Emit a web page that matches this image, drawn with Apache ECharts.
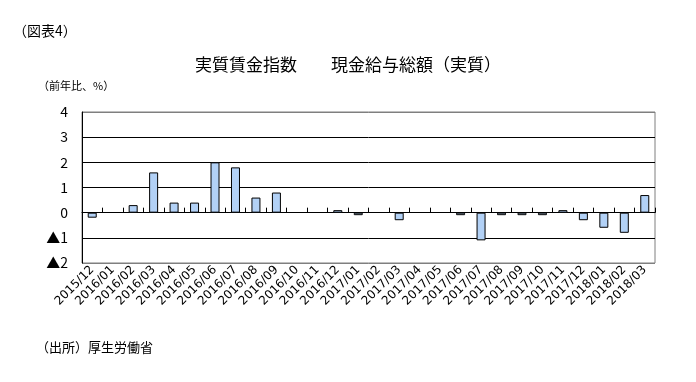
<!DOCTYPE html>
<html><head><meta charset="utf-8">
<script src="https://cdn.jsdelivr.net/npm/echarts@6/dist/echarts.min.js"></script>
<style>html,body{margin:0;padding:0;background:#fff}#c{width:696px;height:382px}</style>
</head><body><div id="c"></div>
<script>
var categories = ['2015/12','2016/01','2016/02','2016/03','2016/04','2016/05','2016/06','2016/07','2016/08','2016/09','2016/10','2016/11','2016/12','2017/01','2017/02','2017/03','2017/04','2017/05','2017/06','2017/07','2017/08','2017/09','2017/10','2017/11','2017/12','2018/01','2018/02','2018/03'];
var values = [-0.2,0,0.3,1.6,0.4,0.4,2.0,1.8,0.6,0.8,0,0,0.1,-0.1,0,-0.3,0,0,-0.1,-1.1,-0.1,-0.1,-0.1,0.1,-0.3,-0.6,-0.8,0.7];
var yMin = -2, yMax = 4, yStep = 1;
var titleText = '実質賃金指数　　現金給与総額（実質）';
var chart = echarts.init(document.getElementById('c'));
var font = '"Noto Sans CJK JP", "DejaVu Sans", sans-serif';
var barData = values.map(function(v){
  return {value: v, itemStyle: {borderWidth: v === 0 ? 0 : 1}};
});
chart.setOption({
  animation: false,
  backgroundColor: '#fff',
  graphic: [
    {type:'text', left: 13, top: 24, style:{text:'（図表4）', font:'14px ' + font, fill:'#000'}},
    {type:'text', left: 38, top: 80, style:{text:'（前年比、%）', font:'11px ' + font, fill:'#000'}},
    {type:'text', left: 36, top: 341, style:{text:'（出所）厚生労働省', font:'13px ' + font, fill:'#000'}}
  ],
  title: {text: titleText, left: 'center', top: 51, textStyle:{fontFamily: font, fontSize: 17, fontWeight:'normal', color:'#000'}},
  grid: {left: 82, right: 41, top: 112, bottom: 119, show: true, borderColor: '#7f7f7f', borderWidth: 1},
  xAxis: [{
    type:'category', data: categories,
    axisLine:{onZero:true, lineStyle:{color:'#000', width:1}},
    axisTick:{show:true, inside:true, length:5, interval:0, lineStyle:{color:'#000'}},
    axisLabel:{show:false}
  },{
    type:'category', data: categories, position:'bottom',
    axisLine:{show:false, onZero:false}, axisTick:{show:false},
    axisLabel:{rotate:45, interval:0, fontSize:12, fontFamily:'"DejaVu Sans", sans-serif', color:'#000', margin:5}
  }],
  yAxis: {
    type:'value', min: yMin, max: yMax, interval: yStep,
    axisLine:{show:true, lineStyle:{color:'#000'}}, axisTick:{show:false},
    axisLabel:{fontSize:14, fontFamily: font, color:'#000', margin:14,
      formatter: function(v){ return v < 0 ? '▲' + (-v) : String(v); }},
    splitLine:{show:true, lineStyle:{color:['#7f7f7f','#000','#000','#000','#000','#000','#7f7f7f'], width:1}}
  },
  series: [{
    type:'bar', data: barData, xAxisIndex:0, barWidth:'44%',
    itemStyle:{color:'#b2d1f6', borderColor:'#000', borderWidth:1}
  }]
});
</script></body></html>
